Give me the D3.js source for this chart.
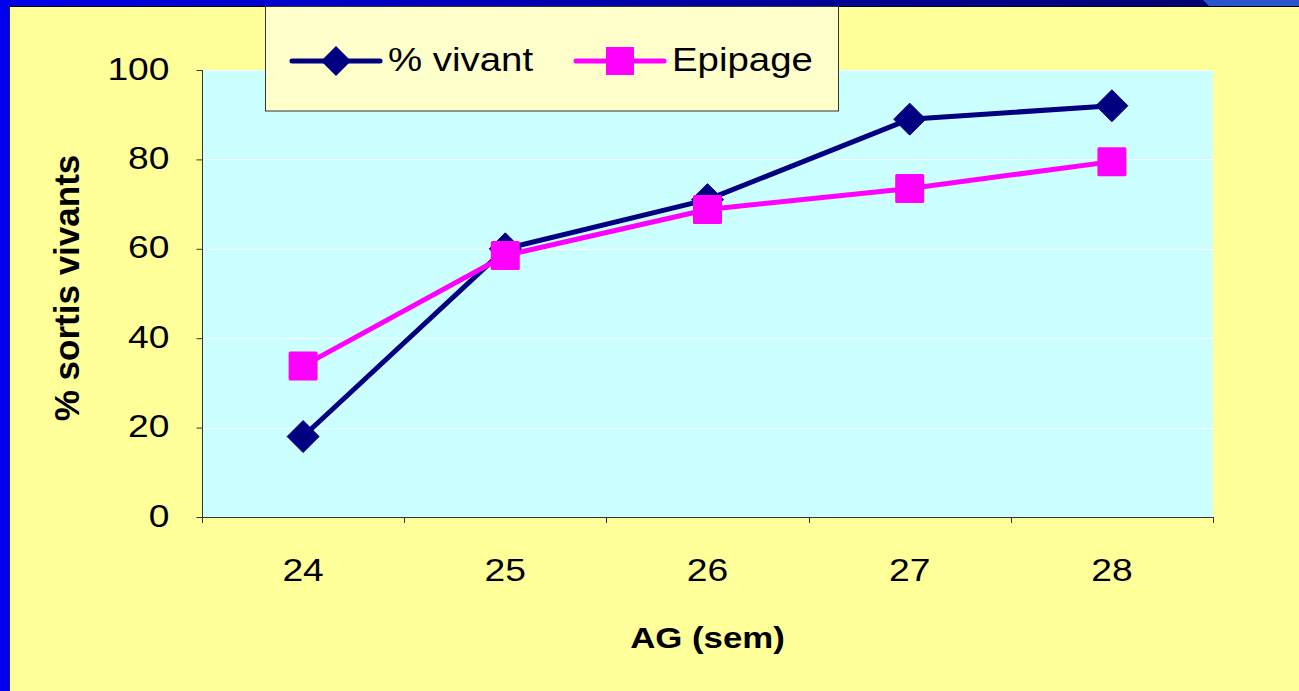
<!DOCTYPE html>
<html>
<head>
<meta charset="utf-8">
<script src="https://cdn.jsdelivr.net/npm/d3@7"></script>
<style>
  html, body { margin: 0; padding: 0; background: #FFFF99; }
  svg { display: block; }
  text { font-family: "Liberation Sans", Arial, sans-serif; }
</style>
</head>
<body>
<svg id="chart" width="1299" height="691"></svg>
<script>
// ---- data ----
const categories = ["24", "25", "26", "27", "28"];
const vivant = [18, 60, 71, 89, 92];
const epipage = [33.8, 58.5, 68.8, 73.5, 79.5];
const yTicks = [0, 20, 40, 60, 80, 100];
const seriesNames = ["% vivant", "Epipage"];
const yTitle = "% sortis vivants";
const xTitle = "AG (sem)";

const svg = d3.select("#chart");
const W = 1299, H = 691;
const SX = 1.2; // horizontal stretch of text

// gradient for top border
const defs = svg.append("defs");
const g1 = defs.append("linearGradient").attr("id", "topGrad").attr("x1", "0").attr("x2", "1");
g1.append("stop").attr("offset", "0").attr("stop-color", "#0000E8");
g1.append("stop").attr("offset", "0.55").attr("stop-color", "#0000A0");
g1.append("stop").attr("offset", "1").attr("stop-color", "#00006A");

// background
svg.append("rect").attr("x", 0).attr("y", 0).attr("width", W).attr("height", H).attr("fill", "#FFFF99");
svg.append("rect").attr("x", 0).attr("y", 0).attr("width", W).attr("height", 7).attr("fill", "url(#topGrad)");
svg.append("path").attr("d", "M1203,0 L1299,0 L1299,6 L1209,6 Z").attr("fill", "#2B55CC");
svg.append("rect").attr("x", 0).attr("y", 0).attr("width", 10).attr("height", H).attr("fill", "#0000EE");
svg.append("line").attr("x1", 9.5).attr("x2", 9.5).attr("y1", 6).attr("y2", H).attr("stroke", "#222244").attr("stroke-width", 1);
svg.append("line").attr("x1", 9).attr("x2", W).attr("y1", 6.5).attr("y2", 6.5).attr("stroke", "#000022").attr("stroke-width", 1);

// scales
const plot = { left: 202, right: 1213, top: 70, bottom: 517 };
const x = d3.scaleBand().domain(categories).range([plot.left, plot.right]);
const y = d3.scaleLinear().domain([0, 100]).range([plot.bottom, plot.top]);
const cx = c => x(c) + x.bandwidth() / 2;

// plot area
svg.append("rect").attr("x", plot.left).attr("y", plot.top)
  .attr("width", plot.right - plot.left).attr("height", plot.bottom - plot.top)
  .attr("fill", "#CCFFFF");

// gridlines
svg.append("g").selectAll("line").data(yTicks.filter(t => t > 0)).join("line")
  .attr("x1", plot.left).attr("x2", plot.right)
  .attr("y1", d => Math.round(y(d)) + 0.5).attr("y2", d => Math.round(y(d)) + 0.5)
  .attr("stroke", "#FFFFFF").attr("stroke-opacity", 0.8).attr("stroke-width", 1);

// y axis
const yAxis = svg.append("g").attr("transform", `translate(${plot.left + 0.5},0)`)
  .call(d3.axisLeft(y).tickValues(yTicks).tickSize(6).tickPadding(0).tickFormat(d3.format("d")));
yAxis.select(".domain").attr("stroke", "#333333").attr("d", `M0,${plot.top}V${plot.bottom + 0.5}`);
yAxis.selectAll(".tick line").attr("stroke", "#333333");
yAxis.selectAll(".tick text")
  .attr("x", null).attr("dy", null)
  .attr("text-anchor", "end")
  .attr("font-size", 31).attr("fill", "#000")
  .attr("transform", `translate(-33,9) scale(${SX},1)`);

// x axis
const xAxis = svg.append("g").attr("transform", `translate(0,${plot.bottom + 0.5})`)
  .call(d3.axisBottom(x).tickSize(0).tickPadding(0));
xAxis.select(".domain").attr("stroke", "#333333").attr("d", `M${plot.left},0H${plot.right}`);
xAxis.selectAll(".tick line").remove();
xAxis.selectAll(".tick text")
  .attr("y", null).attr("dy", null)
  .attr("font-size", 31).attr("fill", "#000")
  .attr("transform", `translate(0,63) scale(${SX},1)`);
// boundary ticks
const bounds = categories.map(c => x(c)).concat([plot.right]);
svg.append("g").selectAll("line").data(bounds).join("line")
  .attr("x1", d => Math.round(d) + 0.5).attr("x2", d => Math.round(d) + 0.5)
  .attr("y1", plot.bottom).attr("y2", plot.bottom + 6)
  .attr("stroke", "#333333");

// axis titles
svg.append("text")
  .attr("transform", `translate(${(plot.left + plot.right) / 2},648) scale(${SX},1)`)
  .attr("text-anchor", "middle").attr("font-size", 29).attr("font-weight", "bold")
  .text(xTitle);
svg.append("text")
  .attr("transform", `translate(79,288) rotate(-90) scale(1.13,1.15)`)
  .attr("text-anchor", "middle").attr("font-size", 31).attr("font-weight", "bold")
  .text(yTitle);

// lines
const line = d3.line().x((d, i) => cx(categories[i])).y(d => y(d));
svg.append("path").datum(vivant).attr("d", line)
  .attr("fill", "none").attr("stroke", "#000080").attr("stroke-width", 5).attr("stroke-linejoin", "round");
svg.append("path").datum(epipage).attr("d", line)
  .attr("fill", "none").attr("stroke", "#FF00FF").attr("stroke-width", 5).attr("stroke-linejoin", "round");

// markers
const diamond = (px, py, r) => `M${px},${py - r}L${px + r},${py}L${px},${py + r}L${px - r},${py}Z`;
svg.append("g").selectAll("path").data(vivant).join("path")
  .attr("d", (d, i) => diamond(cx(categories[i]), y(d), 16))
  .attr("fill", "#000080").attr("stroke", "#000080").attr("stroke-width", 1).attr("stroke-linejoin", "round");
svg.append("g").selectAll("rect").data(epipage).join("rect")
  .attr("x", (d, i) => cx(categories[i]) - 14.5).attr("y", d => y(d) - 14.5)
  .attr("width", 29).attr("height", 29).attr("rx", 1.5)
  .attr("fill", "#FF00FF");

// legend
const lg = svg.append("g");
lg.append("rect").attr("x", 265.5).attr("y", 6.5).attr("width", 573).attr("height", 104.5)
  .attr("fill", "#FFFFCC").attr("stroke", "#333333").attr("stroke-width", 1);
const legendItems = [
  { name: seriesNames[0], color: "#000080", x0: 292, mark: "diamond" },
  { name: seriesNames[1], color: "#FF00FF", x0: 576, mark: "square" }
];
const ly = 61;
legendItems.forEach(it => {
  lg.append("line").attr("x1", it.x0).attr("x2", it.x0 + 88).attr("y1", ly).attr("y2", ly)
    .attr("stroke", it.color).attr("stroke-width", 5).attr("stroke-linecap", "round");
  const mx = it.x0 + 44;
  if (it.mark === "diamond") {
    lg.append("path").attr("d", diamond(mx, ly, 15)).attr("fill", it.color);
  } else {
    lg.append("rect").attr("x", mx - 14).attr("y", ly - 14).attr("width", 28).attr("height", 28).attr("fill", it.color);
  }
  lg.append("text").attr("transform", `translate(${it.x0 + 96},${ly + 10}) scale(${SX},1.05)`)
    .attr("font-size", 32).attr("fill", "#000").text(it.name);
});
</script>
</body>
</html>
